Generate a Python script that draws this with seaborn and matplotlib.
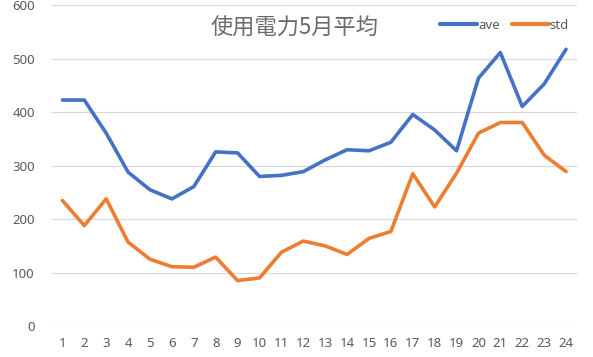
import matplotlib
matplotlib.use("Agg")
import matplotlib.pyplot as plt
import seaborn as sns
import pandas as pd

hours = list(range(1, 25))
ave = [423, 423, 361, 288, 255, 238, 261, 326, 324, 280, 282, 289, 311, 330, 328, 344,
       396, 367, 328, 464, 512, 411, 453, 518]
std = [235, 188, 238, 157, 125, 111, 110, 129, 85, 90, 138, 159, 150, 134, 164, 177,
       285, 223, 286, 361, 381, 381, 320, 289]
series_names = ["ave", "std"]
title = "使用電力5月平均"
yticks = [0, 100, 200, 300, 400, 500, 600]

df = pd.DataFrame({
    "hour": [str(h) for h in hours] * 2,
    "value": ave + std,
    "series": [series_names[0]] * len(hours) + [series_names[1]] * len(hours),
})

sns.set_theme(style="white")
plt.rcParams["font.family"] = ["Noto Sans", "Noto Sans CJK JP", "DejaVu Sans"]

fig = plt.figure(figsize=(5.93, 3.57), dpi=100)
ax = fig.add_axes([0.0868, 0.0868, 0.973 - 0.0868, 0.9846 - 0.0868])

sns.lineplot(data=df, x="hour", y="value", hue="series", sort=False,
             palette=["#4472C4", "#ED7D31"], linewidth=2.6, ax=ax,
             solid_capstyle="round", solid_joinstyle="round")

ax.set_xlim(-0.5, len(hours) - 0.5)
ax.set_ylim(0, 600)
ax.set_yticks(yticks)
ax.set_xlabel("")
ax.set_ylabel("")
ax.grid(axis="y", color="#d9d9d9", linewidth=0.9)
ax.set_axisbelow(True)
for s in ax.spines.values():
    s.set_visible(False)
ax.tick_params(axis="both", length=0, labelsize=9.5, colors="#595959")
ax.tick_params(axis="x", pad=8)
ax.tick_params(axis="y", pad=12)

fig.text(0.497, 0.922, title, ha="center", va="center", fontsize=16,
         color="#6b6b6b", family=["Noto Sans CJK JP", "DejaVu Sans"])

leg = ax.legend(loc="upper right", bbox_to_anchor=(0.995, 0.975), ncol=2, frameon=False,
                fontsize=9.5, handlelength=2.8, handletextpad=0.1, columnspacing=0.9,
                borderaxespad=0)
for t in leg.get_texts():
    t.set_color("#595959")
for h in leg.get_lines():
    h.set_linewidth(3)

fig.savefig("out.png", dpi=100)
